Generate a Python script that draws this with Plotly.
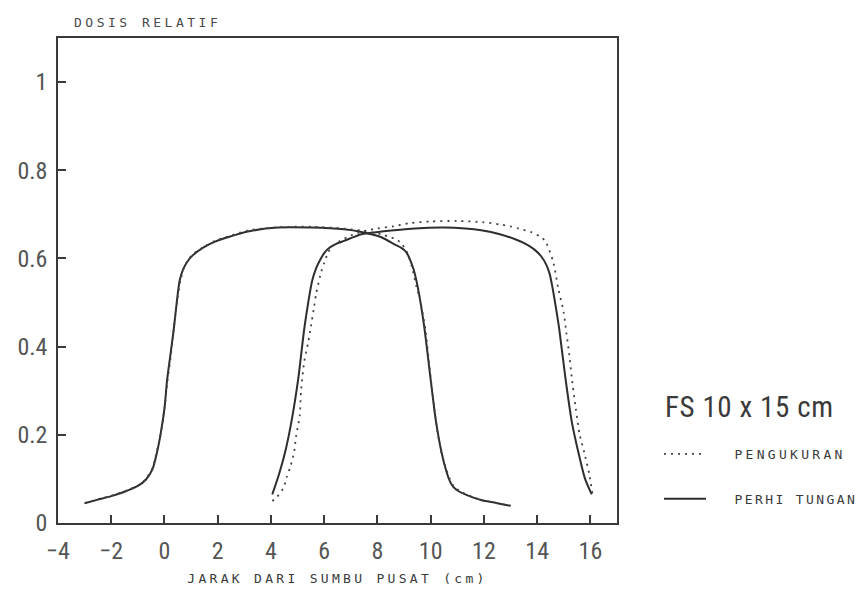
import plotly.graph_objects as go

# ---- data ----
x_calc_1 = [-3.0, -2.5, -2.0, -1.5, -1.0, -0.7, -0.45, -0.3, -0.15, 0.0, 0.1, 0.22, 0.35, 0.46, 0.57, 0.7,
            0.85, 1.06, 1.47, 1.9, 2.38, 3.13, 4.26, 5.5, 6.75, 7.4, 8.15, 8.64, 8.9, 9.09, 9.22, 9.36, 9.47,
            9.58, 9.77, 10.0, 10.2, 10.41, 10.6, 10.72, 10.85, 11.05, 11.3, 11.9, 12.5, 13.0]
y_calc_1 = [0.045, 0.053, 0.061, 0.071, 0.084, 0.098, 0.122, 0.155, 0.2, 0.26, 0.325, 0.38, 0.44, 0.5, 0.55,
            0.575, 0.592, 0.607, 0.625, 0.638, 0.648, 0.661, 0.670, 0.670, 0.666, 0.66, 0.648, 0.632, 0.624,
            0.614, 0.598, 0.575, 0.548, 0.514, 0.44, 0.325, 0.23, 0.16, 0.115, 0.095, 0.082, 0.072, 0.065,
            0.052, 0.045, 0.039]

x_meas_1 = [-3.0, -2.5, -2.0, -1.5, -1.0, -0.7, -0.45, -0.3, -0.15, 0.0, 0.12, 0.24, 0.35, 0.47, 0.6, 0.72,
            0.86, 1.05, 1.5, 1.9, 2.4, 3.1, 4.3, 5.5, 6.7, 7.4, 8.15, 8.4, 8.64, 8.87, 9.1, 9.2, 9.3, 9.45,
            9.62, 9.8, 10.0, 10.2, 10.4, 10.6, 10.72, 10.85, 11.05, 11.3, 11.9, 12.5, 13.0]
y_meas_1 = [0.045, 0.054, 0.062, 0.072, 0.085, 0.1, 0.125, 0.16, 0.2, 0.26, 0.325, 0.38, 0.44, 0.5, 0.55,
            0.577, 0.594, 0.609, 0.627, 0.64, 0.65, 0.663, 0.671, 0.672, 0.668, 0.663, 0.655, 0.65, 0.645,
            0.636, 0.616, 0.6, 0.58, 0.54, 0.5, 0.44, 0.33, 0.23, 0.16, 0.12, 0.1, 0.085, 0.074, 0.066,
            0.052, 0.045, 0.039]

x_calc_2 = [4.05, 4.3, 4.55, 4.8, 5.02, 5.25, 5.4, 5.55, 5.7, 5.85, 6.0, 6.15, 6.45, 6.75, 7.4, 8.15, 9.4,
            10.5, 11.3, 11.9, 12.6, 13.2, 13.6, 13.9, 14.15, 14.35, 14.47, 14.57, 14.7, 14.83, 15.06, 15.3,
            15.55, 15.8, 16.05]
y_calc_2 = [0.065, 0.11, 0.165, 0.24, 0.325, 0.44, 0.5, 0.55, 0.578, 0.597, 0.612, 0.622, 0.633, 0.64,
            0.655, 0.661, 0.668, 0.670, 0.668, 0.664, 0.655, 0.643, 0.632, 0.62, 0.605, 0.585, 0.565, 0.536,
            0.49, 0.44, 0.33, 0.23, 0.16, 0.1, 0.065]

x_meas_2 = [4.05, 4.2, 4.47, 4.6, 4.74, 4.87, 4.94, 5.08, 5.13, 5.25, 5.4, 5.5, 5.62, 5.7, 5.89, 6.0, 6.15,
            6.3, 6.6, 7.0, 7.5, 8.0, 8.6, 9.2, 10.0, 11.0, 12.0, 12.6, 13.0, 13.3, 13.8, 14.1, 14.3, 14.6,
            14.8, 15.0, 15.1, 15.2, 15.3, 15.45, 15.6, 15.77, 15.96, 16.1]
y_meas_2 = [0.05, 0.057, 0.08, 0.105, 0.13, 0.161, 0.195, 0.243, 0.3, 0.366, 0.41, 0.445, 0.49, 0.52, 0.57,
            0.59, 0.614, 0.628, 0.64, 0.652, 0.662, 0.668, 0.673, 0.68, 0.684, 0.685, 0.682, 0.677, 0.673,
            0.668, 0.659, 0.65, 0.64, 0.593, 0.53, 0.477, 0.43, 0.386, 0.33, 0.26, 0.2, 0.16, 0.11, 0.057]

x_tick_vals = [-4, -2, 0, 2, 4, 6, 8, 10, 12, 14, 16]
y_tick_vals = [0, 0.2, 0.4, 0.6, 0.8, 1]
y_tick_text = ["0", "0.2", "0.4", "0.6", "0.8", "1"]

name_meas = "PENGUKURAN"
name_calc = "PERHI TUNGAN"
legend_title = "FS 10 x 15 cm"
y_title = "DOSIS RELATIF"
x_title = "JARAK DARI SUMBU PUSAT (cm)"

# ---- styling ----
ink = "#2e2e2e"
narrow = "Liberation Sans Narrow, Roboto Condensed, DejaVu Sans Condensed, sans-serif"
mono = "DejaVu Sans Mono, Liberation Mono, monospace"
tick_font = dict(family=narrow, size=24, color="#555555")


def spaced(text, px):
    return '<span style="letter-spacing:%spx">%s</span>' % (px, text)


fig = go.Figure()

solid = dict(color=ink, width=2, shape="spline", smoothing=0.7)
dotted = dict(color="#444444", width=1.8, dash="2px,5px", shape="spline", smoothing=0.7)

fig.add_trace(go.Scatter(x=x_calc_1, y=y_calc_1, mode="lines", line=solid,
                         name="&nbsp;&nbsp;&nbsp;" + spaced(name_calc, 2.4),
                         legendgroup="calc", legendrank=2, showlegend=True))
fig.add_trace(go.Scatter(x=x_calc_2, y=y_calc_2, mode="lines", line=solid, name=name_calc,
                         legendgroup="calc", legendrank=2, showlegend=False))
fig.add_trace(go.Scatter(x=x_meas_1, y=y_meas_1, mode="lines", line=dotted,
                         name="&nbsp;&nbsp;&nbsp;" + spaced(name_meas, 3.3),
                         legendgroup="meas", legendrank=1, showlegend=True))
fig.add_trace(go.Scatter(x=x_meas_2, y=y_meas_2, mode="lines", line=dotted, name=name_meas,
                         legendgroup="meas", legendrank=1, showlegend=False))

axis_common = dict(showline=True, linecolor="#3a3a3a", linewidth=1.5, mirror=True,
                   ticks="inside", ticklen=8, tickwidth=1.5, tickcolor="#3a3a3a",
                   showgrid=False, zeroline=False, tickfont=tick_font, automargin=False)

fig.update_xaxes(range=[-4, 17], tickvals=x_tick_vals, ticklabelstandoff=5, **axis_common,
                 title=dict(text=spaced(x_title, 3.3), font=dict(family=mono, size=13, color="#3a3a3a"),
                            standoff=10))
fig.update_yaxes(range=[0, 1.1], tickvals=y_tick_vals, ticktext=y_tick_text, ticklabelstandoff=4,
                 **axis_common)

fig.add_annotation(text=spaced(y_title, 3.5), xref="paper", yref="paper", x=0.025, y=1.0, yshift=16,
                   xanchor="left", yanchor="middle", showarrow=False,
                   font=dict(family=mono, size=13, color="#4a4a4a"))

fig.add_annotation(text=spaced(legend_title, 0.6), xref="paper", yref="paper", x=1.0823, y=0.2392,
                   xanchor="left", yanchor="middle", showarrow=False,
                   font=dict(family=narrow, size=29, color="#3a3a3a"))

# the page body adds an 8px offset, so the figure is 8px smaller and margins compensate
fig.update_layout(
    width=855, height=588,
    margin=dict(l=50, r=246, t=30, b=73),
    paper_bgcolor="white", plot_bgcolor="white",
    legend=dict(xref="container", yref="container", x=0.7614, y=0.267,
                xanchor="left", yanchor="top",
                font=dict(family=mono, size=13, color="#3a3a3a"),
                traceorder="grouped", tracegroupgap=25, itemwidth=42,
                bgcolor="rgba(0,0,0,0)"),
)

fig.write_html("out.html")
